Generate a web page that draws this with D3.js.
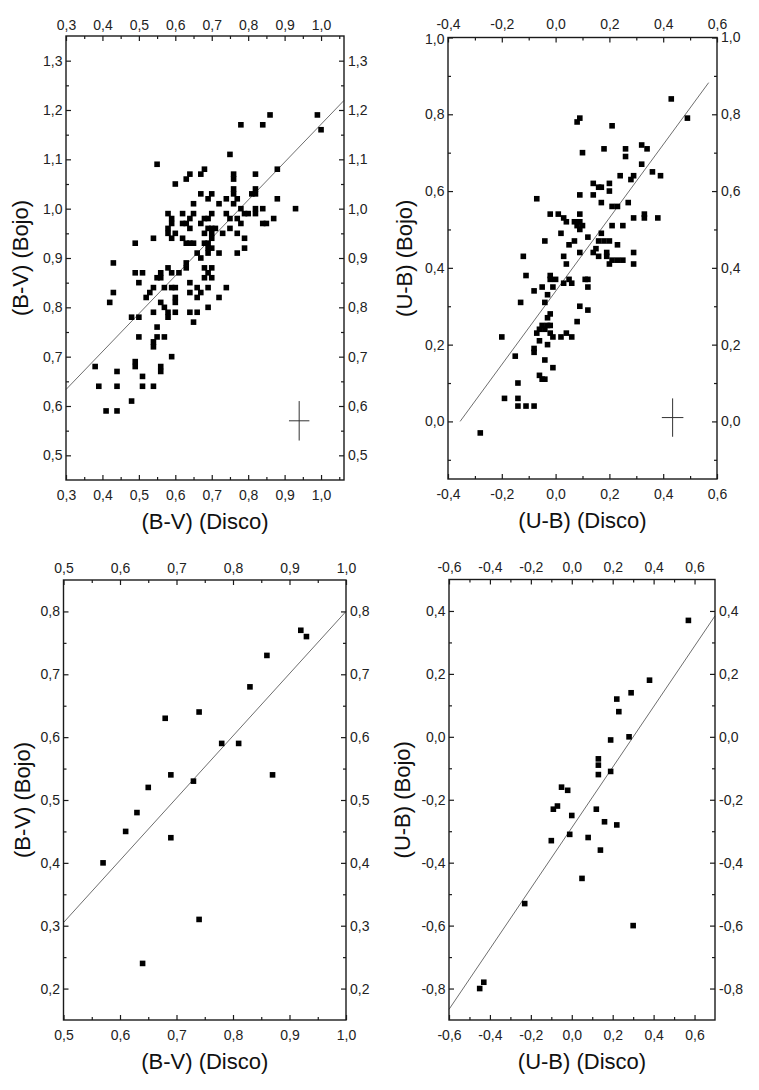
<!DOCTYPE html>
<html><head><meta charset="utf-8">
<script src="https://cdn.jsdelivr.net/npm/d3@7/dist/d3.min.js"></script>
<style>
html,body{margin:0;padding:0;background:#fff;}
svg{display:block;font-family:"Liberation Sans",Arial,Helvetica,sans-serif;}
</style></head>
<body>
<svg id="chart" width="759" height="1090"></svg>
<script>
// ---------- DATA ----------
// Panel A: (B-V) Disco vs (B-V) Bojo
const bvDiscoA = [0.99,1.00,0.86,0.84,0.78,0.75,0.55,0.88,0.68,0.67,0.64,0.63,0.60,0.76,0.76,0.82,0.76,0.82,0.67,0.70,0.76,0.77,0.81,0.82,0.74,0.69,0.88,0.72,0.65,0.76,0.93,0.84,0.82,0.82,0.78,0.79,0.80,0.58,0.62,0.65,0.70,0.74,0.75,0.77,0.87,0.84,0.85,0.78,0.59,0.59,0.62,0.63,0.64,0.67,0.68,0.69,0.58,0.64,0.69,0.70,0.71,0.75,0.58,0.60,0.68,0.70,0.70,0.73,0.77,0.54,0.59,0.62,0.79,0.49,0.63,0.64,0.65,0.68,0.69,0.70,0.69,0.79,0.66,0.69,0.72,0.77,0.67,0.43,0.63,
  0.49,0.51,0.58,0.56,0.55,0.59,0.61,0.63,0.68,0.70,0.69,0.68,0.70,0.56,0.50,0.64,0.54,0.53,0.57,0.59,0.60,0.66,0.69,0.74,0.43,0.52,0.67,0.64,0.66,0.72,0.42,0.56,0.60,0.60,0.57,0.69,0.54,0.58,0.58,0.60,0.64,0.66,0.48,0.50,0.65,0.55,0.50,0.55,0.57,0.54,0.54,0.59,0.49,0.49,0.56,0.56,0.38,0.44,0.51,0.39,0.44,0.51,0.54,0.48,0.41,0.44];
const bvBojoA = [1.19,1.16,1.19,1.17,1.17,1.11,1.09,1.08,1.08,1.07,1.07,1.06,1.05,1.07,1.06,1.07,1.04,1.04,1.03,1.03,1.03,1.02,1.03,1.03,1.02,1.02,1.02,1.01,1.01,1.01,1.00,1.00,1.00,0.99,1.00,0.99,0.99,0.99,0.99,0.99,0.99,0.99,0.98,0.98,0.98,0.97,0.97,0.97,0.98,0.97,0.97,0.97,0.98,0.97,0.98,0.98,0.96,0.96,0.96,0.96,0.96,0.96,0.95,0.95,0.95,0.95,0.94,0.95,0.95,0.94,0.94,0.94,0.94,0.93,0.93,0.93,0.93,0.93,0.93,0.92,0.92,0.92,0.91,0.91,0.91,0.91,0.90,0.89,0.89,
  0.87,0.87,0.88,0.87,0.86,0.87,0.87,0.88,0.88,0.88,0.87,0.86,0.86,0.86,0.85,0.85,0.84,0.83,0.84,0.84,0.84,0.84,0.84,0.84,0.83,0.82,0.83,0.83,0.82,0.82,0.81,0.81,0.82,0.81,0.80,0.80,0.79,0.79,0.78,0.79,0.79,0.79,0.78,0.78,0.77,0.76,0.74,0.74,0.74,0.73,0.72,0.70,0.69,0.68,0.68,0.67,0.68,0.67,0.66,0.64,0.64,0.64,0.64,0.61,0.59,0.59];
const fitA = {slope: 0.768, intercept: 0.403};
const errA = {x: 0.94, y: 0.57, dx: 0.028, dy: 0.04};
const xTicksA = [0.3,0.4,0.5,0.6,0.7,0.8,0.9,1.0];
const yTicksA = [0.5,0.6,0.7,0.8,0.9,1.0,1.1,1.2,1.3];

// Panel B: (U-B) Disco vs (U-B) Bojo
const ubDiscoB = [0.43,0.49,0.09,0.08,0.21,0.10,0.18,0.26,0.26,0.32,0.34,0.32,0.36,0.39,0.24,0.28,0.29,0.14,0.16,0.17,0.20,0.20,0.14,0.09,-0.07,0.17,0.27,0.21,0.23,-0.02,0.01,0.03,0.04,0.09,0.09,0.07,0.08,0.10,0.09,0.33,0.33,0.29,0.38,0.25,0.21,0.02,0.17,0.12,-0.04,0.16,0.18,0.20,0.05,0.07,0.23,0.15,0.09,0.14,0.16,0.19,0.29,-0.12,0.03,0.19,0.04,0.20,0.21,0.23,0.25,0.29,-0.11,-0.02,-0.02,0.00,0.05,0.06,0.03,0.11,0.12,-0.05,-0.01,0.12,-0.08,-0.03,-0.13,-0.04,0.09,0.12,-0.02,-0.03,0.08,-0.05,-0.03,-0.02,-0.06,-0.04,-0.07,-0.02,0.04,-0.01,0.02,0.06,-0.20,-0.06,-0.03,-0.08,-0.08,-0.15,-0.04,-0.01,-0.06,-0.05,-0.04,-0.14,-0.19,-0.14,-0.14,-0.11,-0.08,-0.28];
const ubBojoB = [0.84,0.79,0.79,0.78,0.77,0.70,0.71,0.71,0.69,0.72,0.71,0.67,0.65,0.64,0.64,0.63,0.64,0.62,0.61,0.61,0.62,0.60,0.59,0.59,0.58,0.57,0.57,0.56,0.56,0.54,0.54,0.53,0.52,0.54,0.52,0.52,0.51,0.51,0.50,0.54,0.53,0.53,0.53,0.51,0.51,0.49,0.49,0.48,0.47,0.47,0.47,0.47,0.46,0.47,0.46,0.45,0.44,0.44,0.43,0.44,0.44,0.43,0.43,0.43,0.41,0.41,0.42,0.42,0.42,0.41,0.38,0.38,0.37,0.37,0.37,0.36,0.36,0.37,0.37,0.35,0.35,0.35,0.34,0.33,0.31,0.31,0.30,0.29,0.28,0.27,0.26,0.25,0.25,0.25,0.24,0.24,0.23,0.23,0.23,0.22,0.22,0.22,0.22,0.21,0.20,0.19,0.18,0.17,0.16,0.14,0.12,0.11,0.11,0.10,0.06,0.06,0.04,0.04,0.04,-0.03];
const fitB = {slope: 0.955, intercept: 0.339, x0: -0.355, x1: 0.569};
const errB = {x: 0.435, y: 0.01, dx: 0.04, dy: 0.05};
const xTicksB = [-0.4,-0.2,0.0,0.2,0.4,0.6];
const yTicksB = [0.0,0.2,0.4,0.6,0.8,1.0];

// Panel C: (B-V) Disco vs (B-V) Bojo (second sample)
const bvDiscoC = [0.57,0.61,0.63,0.64,0.65,0.68,0.69,0.69,0.73,0.74,0.74,0.78,0.81,0.83,0.86,0.87,0.92,0.93];
const bvBojoC  = [0.40,0.45,0.48,0.24,0.52,0.63,0.54,0.44,0.53,0.64,0.31,0.59,0.59,0.68,0.73,0.54,0.77,0.76];
const fitC = {slope: 0.99, intercept: -0.19};
const xTicksC = [0.5,0.6,0.7,0.8,0.9,1.0];
const yTicksC = [0.2,0.3,0.4,0.5,0.6,0.7,0.8];

// Panel D: (U-B) Disco vs (U-B) Bojo (second sample)
const ubDiscoD = [0.57,0.38,0.29,0.22,0.23,0.28,0.19,0.13,0.13,0.13,0.19,-0.05,-0.02,-0.09,-0.07,0.12,0.00,0.16,0.22,-0.01,0.08,-0.10,0.14,0.05,-0.23,0.30,-0.43,-0.45];
const ubBojoD  = [0.37,0.18,0.14,0.12,0.08,0.00,-0.01,-0.07,-0.09,-0.12,-0.11,-0.16,-0.17,-0.23,-0.22,-0.23,-0.25,-0.27,-0.28,-0.31,-0.32,-0.33,-0.36,-0.45,-0.53,-0.60,-0.78,-0.80];
const fitD = {slope: 0.962, intercept: -0.289};
const xTicksD = [-0.6,-0.4,-0.2,0.0,0.2,0.4,0.6];
const yTicksD = [-0.8,-0.6,-0.4,-0.2,0.0,0.2,0.4];

// ---------- DRAWING ----------
const svg = d3.select("#chart");
const fmt = v => d3.format(".1f")(v).replace("−","-").replace(".",",");

function minorTicks(major, domain){
  const step = major[1]-major[0];
  const out = [];
  const lo = Math.min(domain[0],domain[1]), hi = Math.max(domain[0],domain[1]);
  for (let i = -1; i < major.length; i++){
    const m = (i < 0 ? major[0] - step/2 : major[i] + step/2);
    if (m > lo + 1e-6 && m < hi - 1e-6) out.push(m);
  }
  return out;
}

function panel(cfg){
  const g = svg.append("g");
  const x = d3.scaleLinear().domain(cfg.xDomain).range([cfg.left, cfg.right]);
  const y = d3.scaleLinear().domain(cfg.yDomain).range([cfg.bottom, cfg.top]);
  const col = "#1a1a1a";
  const majL = 5, minL = 3;

  // fit line
  const fx0 = cfg.fit.x0 !== undefined ? cfg.fit.x0 : cfg.xDomain[0];
  const fx1 = cfg.fit.x1 !== undefined ? cfg.fit.x1 : cfg.xDomain[1];
  g.append("line")
    .attr("x1", x(fx0)).attr("y1", y(cfg.fit.slope*fx0 + cfg.fit.intercept))
    .attr("x2", x(fx1)).attr("y2", y(cfg.fit.slope*fx1 + cfg.fit.intercept))
    .attr("stroke", "#6e6e6e").attr("stroke-width", 1);

  // error cross
  if (cfg.err){
    const e = cfg.err;
    g.append("line").attr("x1", x(e.x-e.dx)).attr("x2", x(e.x+e.dx)).attr("y1", y(e.y)).attr("y2", y(e.y))
      .attr("stroke","#333").attr("stroke-width",1);
    g.append("line").attr("x1", x(e.x)).attr("x2", x(e.x)).attr("y1", y(e.y-e.dy)).attr("y2", y(e.y+e.dy))
      .attr("stroke","#333").attr("stroke-width",1);
  }

  // points
  const pts = cfg.xs.map((v,i)=>({x:v, y:cfg.ys[i]}));
  const s = 5.6;
  g.append("g").selectAll("rect").data(pts).join("rect")
    .attr("x", d => x(d.x)-s/2).attr("y", d => y(d.y)-s/2)
    .attr("width", s).attr("height", s).attr("fill", "#000");

  // frame
  g.append("rect").attr("x", cfg.left).attr("y", cfg.top)
    .attr("width", cfg.right-cfg.left).attr("height", cfg.bottom-cfg.top)
    .attr("fill","none").attr("stroke", col).attr("stroke-width", 1.4);

  // axes via d3 axis (ticks inward)
  const xMin = minorTicks(cfg.xTicks, cfg.xDomain);
  const yMin = minorTicks(cfg.yTicks, cfg.yDomain);
  function styleAxis(sel){
    sel.select(".domain").remove();
    sel.selectAll("line").attr("stroke", col).attr("stroke-width", 1.2);
    sel.selectAll("text").attr("fill", "#222").style("font-size","14px")
      .style("font-family",'"Liberation Sans",Arial,Helvetica,sans-serif');
  }
  // bottom
  g.append("g").attr("transform",`translate(0,${cfg.bottom})`)
    .call(d3.axisBottom(x).tickValues(cfg.xTicks).tickFormat(fmt).tickSizeInner(-majL).tickSizeOuter(0).tickPadding(10))
    .call(styleAxis);
  g.append("g").attr("transform",`translate(0,${cfg.bottom})`)
    .call(d3.axisBottom(x).tickValues(xMin).tickFormat("").tickSizeInner(-minL).tickSizeOuter(0))
    .call(styleAxis);
  // top
  g.append("g").attr("transform",`translate(0,${cfg.top})`)
    .call(d3.axisTop(x).tickValues(cfg.xTicks).tickFormat(fmt).tickSizeInner(-majL).tickSizeOuter(0).tickPadding(cfg.topPad))
    .call(styleAxis);
  g.append("g").attr("transform",`translate(0,${cfg.top})`)
    .call(d3.axisTop(x).tickValues(xMin).tickFormat("").tickSizeInner(-minL).tickSizeOuter(0))
    .call(styleAxis);
  // left
  const leftAx = g.append("g").attr("transform",`translate(${cfg.left},0)`)
    .call(d3.axisLeft(y).tickValues(cfg.yTicks).tickFormat(fmt).tickSizeInner(-majL).tickSizeOuter(0).tickPadding(3.5))
    .call(styleAxis);
  if (cfg.cornerNudge) {
    // keep the corner label clear of the top-axis label
    leftAx.selectAll(".tick text").filter(d => Math.abs(d - cfg.yDomain[1]) < 1e-6)
      .attr("dy", "0.32em").attr("transform", `translate(0,${cfg.cornerNudge})`);
  }
  g.append("g").attr("transform",`translate(${cfg.left},0)`)
    .call(d3.axisLeft(y).tickValues(yMin).tickFormat("").tickSizeInner(-minL).tickSizeOuter(0))
    .call(styleAxis);
  // right
  g.append("g").attr("transform",`translate(${cfg.right},0)`)
    .call(d3.axisRight(y).tickValues(cfg.yTicks).tickFormat(fmt).tickSizeInner(-majL).tickSizeOuter(0).tickPadding(4))
    .call(styleAxis);
  g.append("g").attr("transform",`translate(${cfg.right},0)`)
    .call(d3.axisRight(y).tickValues(yMin).tickFormat("").tickSizeInner(-minL).tickSizeOuter(0))
    .call(styleAxis);

  // titles
  g.append("text").attr("x", (cfg.left+cfg.right)/2).attr("y", cfg.bottom + 41)
    .attr("text-anchor","middle").attr("dominant-baseline","central")
    .style("font-size","22px").attr("fill","#111").text(cfg.xTitle);
  g.append("text").attr("transform",`translate(${cfg.yTitleX},${(cfg.top+cfg.bottom)/2}) rotate(-90)`)
    .attr("text-anchor","middle").attr("dominant-baseline","central")
    .style("font-size","22px").attr("fill","#111").text(cfg.yTitle);
}

panel({left:66, right:344, top:36, bottom:480, xDomain:[0.3,1.063], yDomain:[0.45,1.35],
  xs:bvDiscoA, ys:bvBojoA, fit:fitA, err:errA, xTicks:xTicksA, yTicks:yTicksA, topPad:6.5,
  xTitle:"(B-V) (Disco)", yTitle:"(B-V) (Bojo)", yTitleX:20});
panel({left:448, right:717, top:37.5, bottom:479, xDomain:[-0.4,0.6], yDomain:[-0.15,1.0],
  xs:ubDiscoB, ys:ubBojoB, fit:fitB, err:errB, xTicks:xTicksB, yTicks:yTicksB, topPad:9, cornerNudge:1.5,
  xTitle:"(U-B) (Disco)", yTitle:"(U-B) (Bojo)", yTitleX:404});
panel({left:63.5, right:346, top:580, bottom:1020, xDomain:[0.5,1.0], yDomain:[0.15,0.85],
  xs:bvDiscoC, ys:bvBojoC, fit:fitC, xTicks:xTicksC, yTicks:yTicksC, topPad:7,
  xTitle:"(B-V) (Disco)", yTitle:"(B-V) (Bojo)", yTitleX:22});
panel({left:449, right:715, top:579.5, bottom:1020, xDomain:[-0.6,0.7], yDomain:[-0.9,0.5],
  xs:ubDiscoD, ys:ubBojoD, fit:fitD, xTicks:xTicksD, yTicks:yTicksD, topPad:7.5,
  xTitle:"(U-B) (Disco)", yTitle:"(U-B) (Bojo)", yTitleX:402});
</script>
</body></html>
